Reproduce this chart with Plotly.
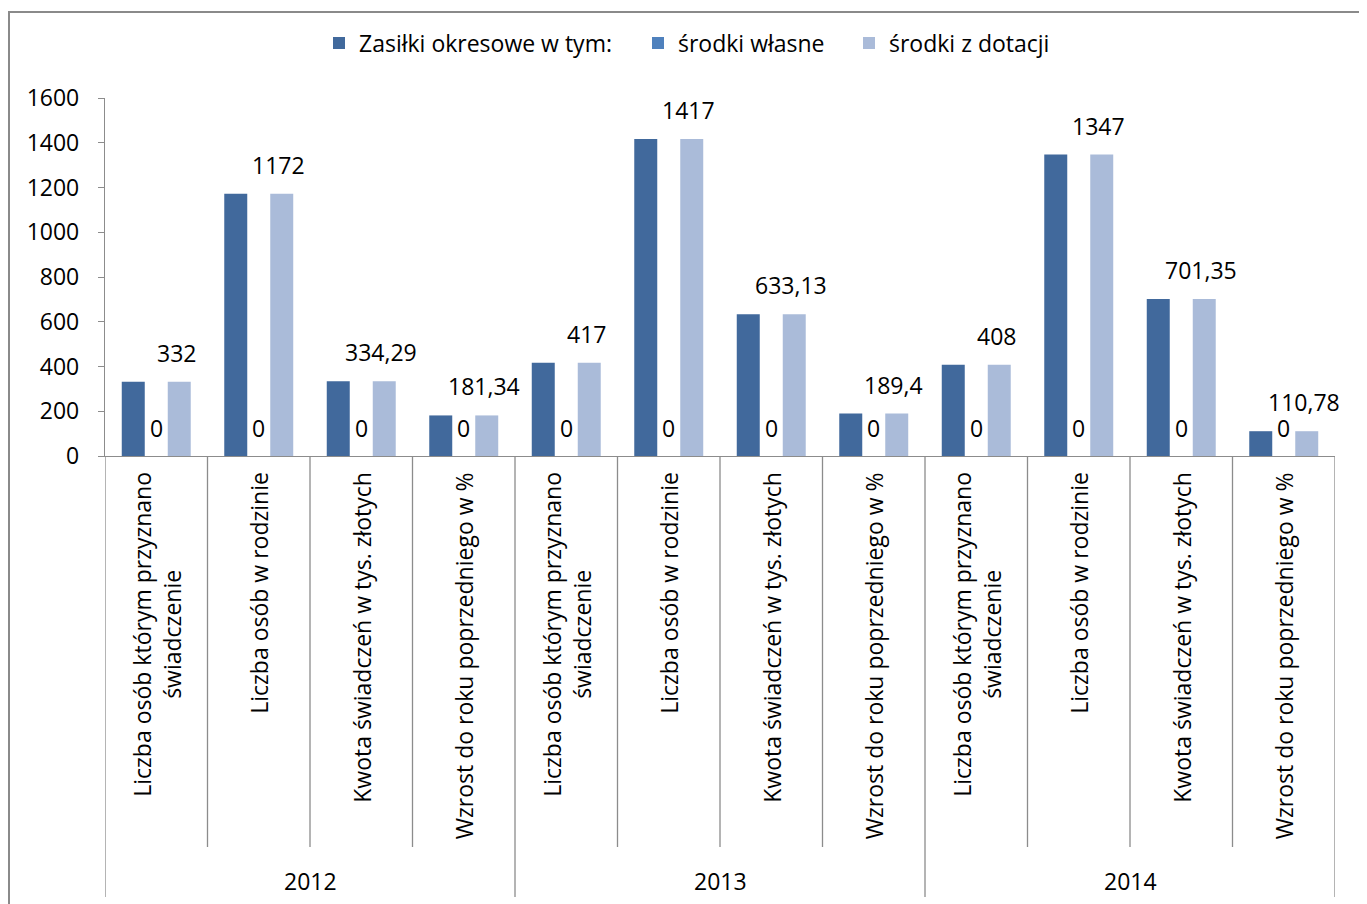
import plotly.graph_objects as go

years = ["2012", "2013", "2014"]
measures = [
    "Liczba osób którym przyznano<br>świadczenie",
    "Liczba osób w rodzinie",
    "Kwota świadczeń w tys. złotych",
    "Wzrost do roku poprzedniego w %",
]
series_names = ["Zasiłki okresowe w tym:", "środki własne", "środki z dotacji"]
zasilki = [332, 1172, 334.29, 181.34, 417, 1417, 633.13, 189.4, 408, 1347, 701.35, 110.78]
srodki_wlasne = [0, 0, 0, 0, 0, 0, 0, 0, 0, 0, 0, 0]
srodki_dotacji = [332, 1172, 334.29, 181.34, 417, 1417, 633.13, 189.4, 408, 1347, 701.35, 110.78]
y_ticks = [0, 200, 400, 600, 800, 1000, 1200, 1400, 1600]

colors = ["#41699C", "#4F81BD", "#AABBD9"]
FONT = "Open Sans"
FS = 23
GRAY = "#8C8C8C"

OFF = 8  # page body margin
W, H = 1367 - OFF, 904 - OFF
L, R, T, B = 105 - OFF, 1335 - OFF, 98 - OFF, 456 - OFF
ph = B - T
pw = R - L


def py(pix):
    return (B - (pix - OFF)) / ph


def px(pix):
    return ((pix - OFF) - L) / pw


def fmt(v):
    return f"{v:g}".replace(".", ",")


n = len(years) * len(measures)
xs = list(range(n))

legend_ids = ["legend", "legend2", "legend3"]
legend_square_left = [333, 652, 863]

fig = go.Figure()
for name, vals, c, lg in zip(series_names, [zasilki, srodki_wlasne, srodki_dotacji], colors, legend_ids):
    fig.add_trace(go.Bar(x=xs, y=vals, name=name, legend=lg, marker=dict(color=c, line=dict(width=0))))

annotations = []
bar_w_px = pw / n * (1 - 0.327) / 3
for i in xs:
    annotations.append(dict(x=i, y=srodki_wlasne[i], xref="x", yref="y", text=fmt(srodki_wlasne[i]),
                            showarrow=False, yanchor="middle", yshift=28,
                            font=dict(family=FONT, size=FS, color="black")))
    annotations.append(dict(x=i, y=srodki_dotacji[i], xref="x", yref="y", text=fmt(srodki_dotacji[i]),
                            showarrow=False, yanchor="middle", yshift=29, xshift=bar_w_px - 3,
                            font=dict(family=FONT, size=FS, color="black")))

shapes = []
for gi, yr in enumerate(years):
    for mi, m in enumerate(measures):
        i = gi * len(measures) + mi
        annotations.append(dict(x=i, y=py(470), xref="x", yref="paper", text=m, textangle=-90,
                                showarrow=False, xanchor="center", yanchor="top", align="center",
                                font=dict(family=FONT, size=FS, color="black")))
    annotations.append(dict(x=gi * len(measures) + 1.5, y=py(881), xref="x", yref="paper", text=yr,
                            showarrow=False, xanchor="center", yanchor="middle",
                            font=dict(family=FONT, size=FS, color="black")))

for k in range(n + 1):
    major = k % len(measures) == 0
    shapes.append(dict(type="line", xref="x", yref="paper", x0=k - 0.5, x1=k - 0.5,
                       y0=0, y1=py(897 if major else 847), line=dict(color=GRAY, width=1.3)))

shapes.append(dict(type="rect", xref="paper", yref="paper", x0=px(9), x1=px(1361), y0=py(920), y1=py(12),
                   line=dict(color="#8A8A8A", width=2), layer="below"))

legend_layouts = {}
for lg, sq in zip(legend_ids, legend_square_left):
    legend_layouts[lg] = dict(orientation="h", x=px(sq - 14), xanchor="left", y=py(43), yanchor="middle",
                              font=dict(family=FONT, size=FS, color="black"),
                              itemwidth=30, bgcolor="rgba(0,0,0,0)")

fig.update_layout(
    width=W, height=H,
    margin=dict(l=L, r=W - R, t=T, b=H - B, pad=0),
    paper_bgcolor="white", plot_bgcolor="white",
    barmode="group", bargap=0.327, bargroupgap=0,
    font=dict(family=FONT, size=FS, color="black"),
    showlegend=True,
    xaxis=dict(range=[-0.5, n - 0.5], showticklabels=False, ticks="", showgrid=False, zeroline=False,
               showline=True, linecolor=GRAY, linewidth=1.3, fixedrange=True),
    yaxis=dict(range=[0, 1600], tickvals=y_ticks, showgrid=False, zeroline=False, showline=True,
               linecolor=GRAY, linewidth=1.3, ticks="outside", ticklen=6, tickcolor=GRAY,
               tickfont=dict(family=FONT, size=FS, color="black"), ticklabelstandoff=14),
    annotations=annotations,
    shapes=shapes,
    **legend_layouts,
)

fig.write_html("out.html")
